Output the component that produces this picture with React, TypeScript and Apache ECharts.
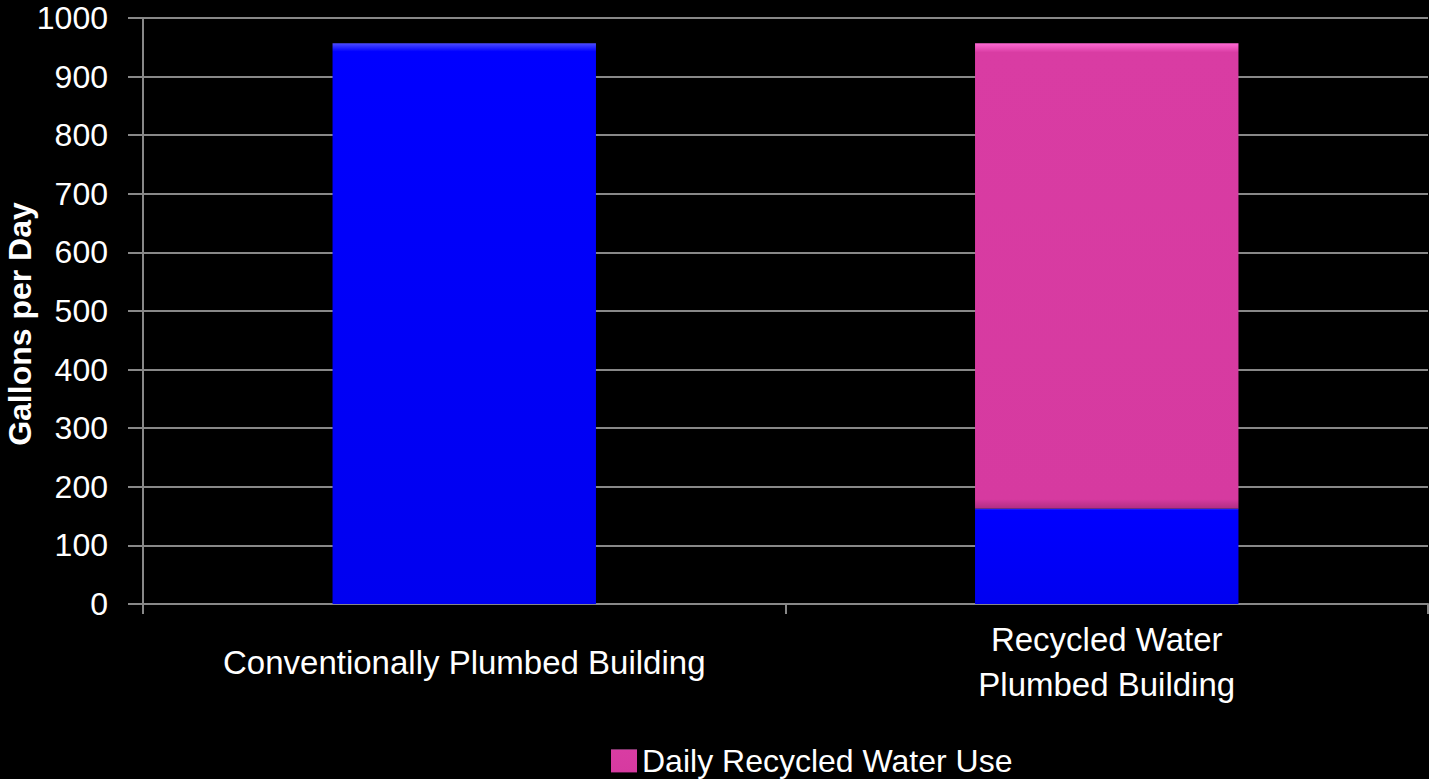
import React, { useEffect, useRef } from "react";
import * as echarts from "echarts";

const categories = ["Conventionally Plumbed Building", "Recycled Water\nPlumbed Building"];
const potableUse = [957, 163];
const recycledUse = [0, 794];
const yTicks = { min: 0, max: 1000, interval: 100 };
const seriesNames = ["Daily Potable Water Use", "Daily Recycled Water Use"];
const yAxisTitle = "Gallons per Day";

const FONT = "'Liberation Sans', Arial, sans-serif";

export default function App() {
  const ref = useRef<HTMLDivElement>(null);
  useEffect(() => {
    document.body.style.margin = "0";
    document.body.style.background = "#000";
    const chart = echarts.init(ref.current!, null, { renderer: "svg" });
    const blue = new echarts.graphic.LinearGradient(0, 0, 0, 1, [
      { offset: 0, color: "#4d4dff" },
      { offset: 0.015, color: "#0000ff" },
      { offset: 1, color: "#0000f0" },
    ]);
    const pink = new echarts.graphic.LinearGradient(0, 0, 0, 1, [
      { offset: 0, color: "#ff6ad4" },
      { offset: 0.02, color: "#d93ca3" },
      { offset: 0.98, color: "#d63aa0" },
      { offset: 1, color: "#b02e84" },
    ]);
    chart.setOption({
      animation: false,
      backgroundColor: "#000",
      textStyle: { fontFamily: FONT, color: "#fff" },
      grid: {
        left: 143,
        right: 1,
        top: 18,
        bottom: 175,
        containLabel: false,
        outerBoundsMode: "none",
      },
      graphic: [
        {
          type: "text",
          x: 20,
          y: 324,
          rotation: Math.PI / 2,
          style: {
            text: yAxisTitle,
            fill: "#fff",
            font: `bold 32px ${FONT}`,
            align: "center",
            verticalAlign: "middle",
          },
        },
      ],
      legend: {
        data: [seriesNames[1]],
        left: 606,
        top: 740,
        itemWidth: 26,
        itemHeight: 23,
        icon: "rect",
        textStyle: { color: "#fff", fontSize: 32, lineHeight: 32, fontFamily: FONT },
      },
      xAxis: {
        type: "category",
        data: categories,
        axisLine: { show: true, lineStyle: { color: "#888", width: 2 } },
        axisTick: { show: true, length: 10, lineStyle: { color: "#888", width: 2 } },
        axisLabel: {
          color: "#fff",
          fontSize: 33,
          fontFamily: FONT,
          margin: 58,
          verticalAlign: "middle",
          lineHeight: 45,
          interval: 0,
        },
      },
      yAxis: {
        type: "value",
        min: yTicks.min,
        max: yTicks.max,
        interval: yTicks.interval,
        axisLine: { show: true, lineStyle: { color: "#888", width: 2 } },
        axisTick: { show: true, length: 15, lineStyle: { color: "#888", width: 2 } },
        splitLine: { show: true, lineStyle: { color: "#888", width: 2 } },
        axisLabel: {
          color: "#fff",
          fontSize: 32,
          lineHeight: 30,
          fontFamily: FONT,
          margin: 35,
          formatter: (v: number) => String(v),
        },
      },
      series: [
        {
          name: seriesNames[0],
          type: "bar",
          stack: "total",
          data: potableUse,
          barWidth: "41%",
          itemStyle: { color: blue },
        },
        {
          name: seriesNames[1],
          type: "bar",
          stack: "total",
          data: recycledUse.map((v) => (v === 0 ? null : v)),
          barWidth: "41%",
          itemStyle: { color: pink },
        },
      ],
    });
    return () => chart.dispose();
  }, []);
  return (
    <div
      ref={ref}
      style={{ position: "fixed", left: 0, top: 0, width: 1429, height: 779, background: "#000" }}
    />
  );
}
